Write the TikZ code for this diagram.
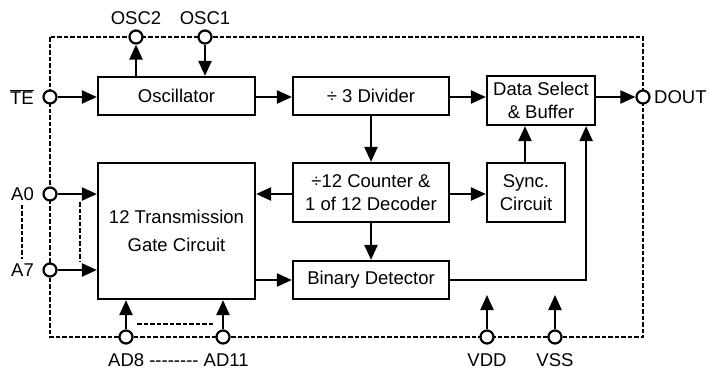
\documentclass[tikz,border=0pt]{standalone}
\usepackage{fontspec}
\setmainfont{Liberation Sans}
\usetikzlibrary{arrows.meta}
\begin{document}
\begin{tikzpicture}[x=1pt,y=-1pt,
  every node/.style={font=\fontsize{18.5}{23}\selectfont},
  blk/.style={draw,line width=2.2pt,inner sep=0pt,align=center},
  pin/.style={draw,circle,fill=white,line width=2.2pt,minimum size=13pt,inner sep=0pt},
  lbl/.style={inner sep=0pt},
  sig/.style={line width=2.2pt,-{Triangle[length=15pt,width=13pt]}},
  dsh/.style={line width=2pt,dash pattern=on 4.5pt off 2pt}
]
\useasboundingbox (0,0) rectangle (710,372);
% boundary
\draw[dsh] (50,37) rectangle (643,337);
% blocks
\node[blk,minimum width=157pt,minimum height=38pt] (osc) at (176.5,96) {Oscillator};
\node[blk,minimum width=156pt,minimum height=38pt] (div) at (371,96) {÷ 3 Divider};
\node[blk,minimum width=108pt,minimum height=49pt] (ds) at (541,100.5) {Data Select\\\& Buffer};
\node[blk,minimum width=156pt,minimum height=59pt] (cnt) at (371,192.5) {÷12 Counter \&\\1 of 12 Decoder};
\node[blk,minimum width=78pt,minimum height=59pt] (syn) at (526,192.5) {Sync.\\Circuit};
\node[blk,minimum width=157pt,minimum height=136pt] (tg) at (176.5,231) {12 Transmission\\[5pt]Gate Circuit};
\node[blk,minimum width=156pt,minimum height=38pt] (bin) at (371,280) {Binary Detector};
% pins
\node[pin] (osc2) at (136,37) {};
\node[pin] (osc1) at (205,37) {};
\node[pin] (te) at (50,97) {};
\node[pin] (a0) at (50,194) {};
\node[pin] (a7) at (50,270) {};
\node[pin] (ad8) at (126,337) {};
\node[pin] (ad11) at (223,337) {};
\node[pin] (vdd) at (487,337) {};
\node[pin] (vss) at (555,337) {};
\node[pin] (dout) at (643,97) {};
% labels
\node[lbl] (osc2l) at (136,18) {OSC2};
\node[lbl] (osc1l) at (205,18) {OSC1};
\node[lbl,anchor=east] (tel) at (34,97) {$\overline{\mbox{TE}}$};
\node[lbl,anchor=east] (a0l) at (34,194) {A0};
\node[lbl,anchor=east] (a7l) at (34,270) {A7};
\node[lbl,anchor=west] (doutl) at (654,97) {DOUT};
\node[lbl] (vddl) at (487,360) {VDD};
\node[lbl] (vssl) at (555,360) {VSS};
\node[lbl,anchor=west] (adl) at (108,360) {AD8 {-}{-}{-}{-}{-}{-}{-}{-} AD11};
% connectors
\draw[sig] (osc.north -| osc2) -- (osc2.south);
\draw[sig] (osc1.south) -- (osc1 |- osc.north);
\draw[sig] (te.east) -- (te -| osc.west);
\draw[sig] (osc.east |- te) -- (te -| div.west);
\draw[sig] (div.east |- te) -- (te -| ds.west);
\draw[sig] (ds.east |- te) -- (dout.west);
\draw[sig] (div.south) -- (cnt.north);
\draw[sig] (cnt.west |- a0) -- (a0 -| tg.east);
\draw[sig] (cnt.east |- a0) -- (a0 -| syn.west);
\draw[sig] (syn.north -| 525,0) -- (525,0 |- ds.south);
\draw[sig] (cnt.south) -- (bin.north);
\draw[sig] (tg.east |- bin) -- (bin.west);
\draw[sig] (bin.east) -| ([xshift=-10pt]ds.south east);
\draw[sig] (a0.east) -- (a0 -| tg.west);
\draw[sig] (a7.east) -- (a7 -| tg.west);
\draw[sig] (ad8.north) -- (ad8 |- tg.south);
\draw[sig] (ad11.north) -- (ad11 |- tg.south);
\coordinate (vddtip) at (487,295);
\coordinate (vsstip) at (555,295);
\draw[sig] (vdd.north) -- (vddtip);
\draw[sig] (vss.north) -- (vsstip);
% dashed ellipsis lines
\draw[dsh] ([yshift=-4pt]a0l.south) -- ([yshift=4pt]a7l.north);
\coordinate (g1) at (80,202);
\coordinate (g2) at (80,262);
\draw[dsh] (g1) -- (g2);
\coordinate (h1) at (137,324);
\coordinate (h2) at (215,324);
\draw[dsh] (h1) -- (h2);
\end{tikzpicture}
\end{document}
